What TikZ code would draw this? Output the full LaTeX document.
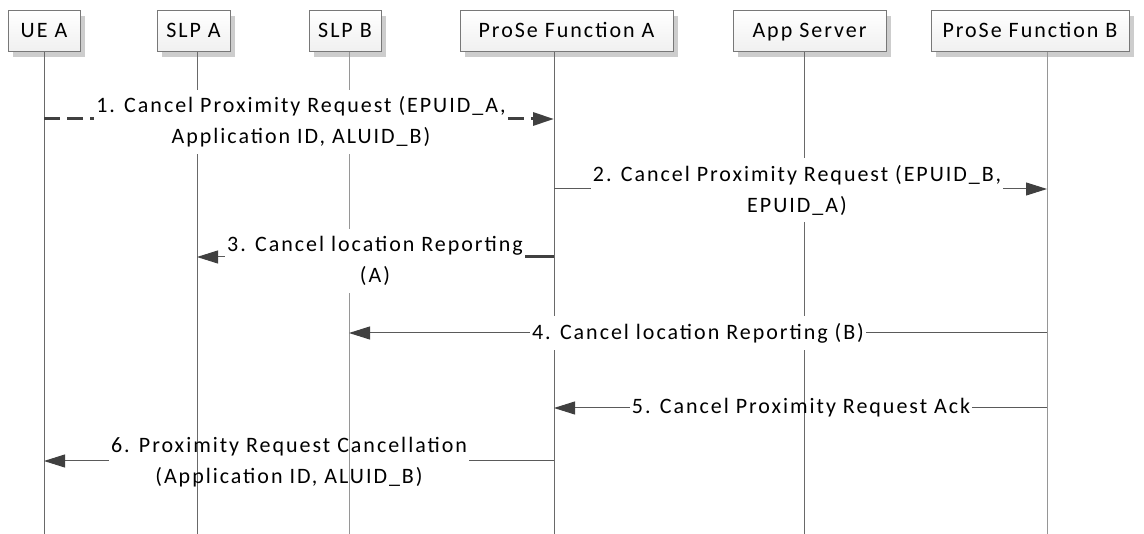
\documentclass[tikz,border=0pt]{standalone}
\usepackage{fontspec}
\setmainfont{Carlito}[LetterSpace=9]
\usetikzlibrary{arrows.meta,positioning,shadows}
\definecolor{boxline}{RGB}{120,120,120}
\definecolor{boxshade}{RGB}{205,205,205}
\definecolor{lifedark}{RGB}{105,105,105}
\definecolor{lifelight}{RGB}{150,150,150}
\definecolor{msggray}{RGB}{90,90,90}
\definecolor{headgray}{RGB}{64,64,64}
\tikzset{
  actor/.style={draw=boxline, line width=1pt, top color=white, bottom color=gray!12,
    minimum height=41pt, inner sep=0pt, text height=16.5pt, text depth=3.5pt,
    drop shadow={shadow xshift=5pt, shadow yshift=-5pt, fill=boxshade, opacity=1}},
  life/.style={line width=1pt},
  msg/.style={draw=msggray, line width=1pt},
  msgdash/.style={draw=headgray, line width=3pt, dash pattern=on 16pt off 7pt},
  tip/.style={-{Triangle[length=21pt,width=13pt,color=headgray]}},
  msglabel/.style={align=center, inner xsep=2pt, inner ysep=7pt}
}

\begin{document}
\begin{tikzpicture}[x=1pt, y=-1pt, font=\fontsize{22pt}{31pt}\selectfont]
  \useasboundingbox (0,0) rectangle (1144,534);

  \node[actor, minimum width=72pt] (ueA) at (44,31.5) {UE A};
  \node[actor, minimum width=73pt] (slpA) at (193.5,31.5) {SLP A};
  \node[actor, minimum width=72pt] (slpB) at (345,31.5) {SLP B};
  \node[actor, minimum width=213pt] (pfA) at (566.5,31.5) {ProSe Function A};
  \node[actor, minimum width=153pt] (appS) at (809.5,31.5) {App Server};
  \node[actor, minimum width=198pt] (pfB) at (1030,31.5) {ProSe Function B};

  \foreach \n/\x/\c in {ueA/44/lifedark, slpA/197/lifedark, slpB/349/lifelight,
                        pfA/554/lifedark, appS/804/lifedark, pfB/1047/lifelight} {
    \coordinate (\n-bot) at (\x,534);
    \draw[life, draw=\c] (\n-bot |- \n.south) -- (\n-bot);
  }

  \coordinate (m1a) at (44,119);  \coordinate (m1b) at (554,119);
  \coordinate (m2a) at (554,189); \coordinate (m2b) at (1047,189);
  \coordinate (m3a) at (554,257); \coordinate (m3b) at (197,257);
  \coordinate (m4a) at (1047,333); \coordinate (m4b) at (349,333);
  \coordinate (m5a) at (1047,408); \coordinate (m5b) at (554,408);
  \coordinate (m6a) at (554,461); \coordinate (m6b) at (44,461);

  \node[msglabel, fill=white] (m1) at (301,122)
    {1. Cancel Proximity Request (EPUID\_A,\\Application ID, ALUID\_B)};
  \node[msglabel, fill=white] (m2) at (797,190)
    {2. Cancel Proximity Request (EPUID\_B,\\EPUID\_A)};
  \node[msglabel, fill=white] (m3) at (375,261)
    {3. Cancel location Reporting\\(A)};
  \node[msglabel, fill=white] (m4) at (698,333)
    {4. Cancel location Reporting (B)};
  \node[msglabel] (m5) at (801,408)
    {5. Cancel Proximity Request Ack};
  \node[msglabel] (m6) at (289,462)
    {6. Proximity Request Cancellation\\(Application ID, ALUID\_B)};

  \draw[msgdash] (m1a) -- (m1a -| m1.west);
  \draw[msgdash, tip] (m1.east |- m1b) -- (m1b);

  \draw[msg] (m2a) -- (m2a -| m2.west);
  \draw[msg, tip] (m2.east |- m2b) -- (m2b);

  \draw[msg, line width=3pt, draw=headgray] (m3a) -- (m3a -| m3.east);
  \draw[msg, tip] (m3.west |- m3b) -- (m3b);

  \draw[msg] (m4a) -- (m4a -| m4.east);
  \draw[msg, tip] (m4.west |- m4b) -- (m4b);

  \draw[msg] (m5a) -- (m5a -| m5.east);
  \draw[msg, tip] (m5.west |- m5b) -- (m5b);

  \draw[msg] (m6a) -- (m6a -| m6.east);
  \draw[msg, tip] (m6.west |- m6b) -- (m6b);
\end{tikzpicture}
\end{document}
